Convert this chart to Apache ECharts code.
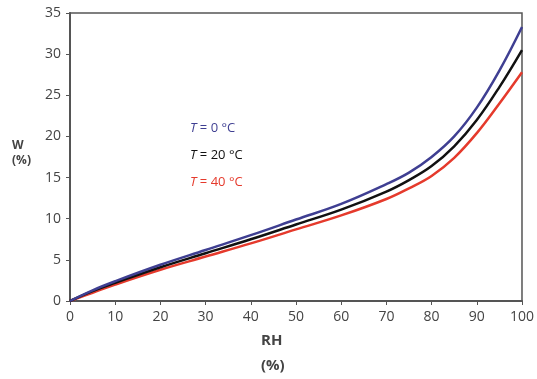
<!DOCTYPE html>
<html><head><meta charset="utf-8">
<script src="https://cdn.jsdelivr.net/npm/echarts@6/dist/echarts.min.js"></script>
<style>html,body{margin:0;padding:0;background:#fff}#c{width:537px;height:379px}</style>
</head><body><div id="c"></div>
<script>
const rh = [0, 5, 10, 20, 30, 40, 50, 60, 70, 75, 80, 85, 90, 95, 100];
const w0 = [0, 1.3, 2.4, 4.4, 6.2, 8.0, 9.9, 11.8, 14.2, 15.6, 17.5, 20.0, 23.5, 28.0, 33.3];
const w20 = [0, 1.2, 2.2, 4.1, 5.8, 7.5, 9.3, 11.1, 13.3, 14.7, 16.4, 18.8, 22.0, 26.0, 30.5];
const w40 = [0, 1.0, 2.0, 3.8, 5.4, 7.0, 8.7, 10.4, 12.4, 13.7, 15.2, 17.4, 20.4, 24.0, 27.8];
const seriesNames = ['T = 0 °C', 'T = 20 °C', 'T = 40 °C'];
const colors = ['#3f3f92', '#111111', '#e53a2c'];

const chart = echarts.init(document.getElementById('c'));
const font = '"Open Sans", sans-serif';
const mk = (arr) => rh.map((x, i) => [x, arr[i]]);
const datasets = [w0, w20, w40];
chart.setOption({
  animation: false,
  grid: { left: 70, right: 14, top: 13, bottom: 78, show: true, borderColor: '#555', borderWidth: 1.5 },
  xAxis: {
    type: 'value', min: 0, max: 100, interval: 10,
    axisLine: { lineStyle: { color: '#555', width: 2 } },
    axisTick: { show: true, length: 4, lineStyle: { color: '#555' } },
    axisLabel: { color: '#444', fontSize: 14, fontFamily: font, margin: 9 },
    splitLine: { show: false }
  },
  yAxis: {
    type: 'value', min: 0, max: 35, interval: 5,
    axisLine: { show: true, lineStyle: { color: '#555', width: 2 } },
    axisTick: { show: true, length: 4, lineStyle: { color: '#555' } },
    axisLabel: { color: '#444', fontSize: 14, fontFamily: font, margin: 9 },
    splitLine: { show: false }
  },
  series: datasets.map((d, i) => ({
    name: seriesNames[i], type: 'line', data: mk(d), smooth: 0.4, showSymbol: false,
    lineStyle: { color: colors[i], width: 2.5 }, z: 3 - i
  })),
  graphic: [
    { type: 'text', left: 12, top: 138, style: { text: 'W\n(%)', fill: '#444', font: 'bold 12px ' + font, align: 'center', lineHeight: 15 } },
    { type: 'text', left: 261, top: 333, style: { text: 'RH', fill: '#444', font: 'bold 15px ' + font } },
    { type: 'text', left: 261, top: 358, style: { text: '(%)', fill: '#444', font: 'bold 15px ' + font } },
    ...seriesNames.map((n, i) => ({
      type: 'text', left: 190, top: 122 + i * 27,
      style: {
        text: '{t|T}{r| ' + n.slice(2) + '}',
        rich: {
          t: { fill: colors[i], font: 'italic 13px ' + font },
          r: { fill: colors[i], font: '13px ' + font }
        }
      }
    }))
  ]
});
</script></body></html>
